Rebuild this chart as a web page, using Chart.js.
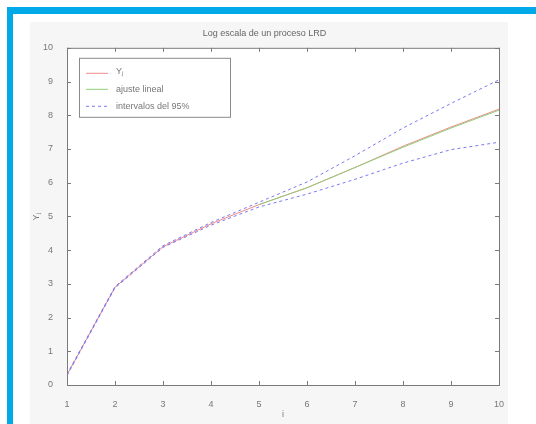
<!DOCTYPE html>
<html>
<head>
<meta charset="utf-8">
<script src="https://cdn.jsdelivr.net/npm/chart.js@4/dist/chart.umd.min.js"></script>
<style>
  html, body { margin: 0; padding: 0; background: #fff; }
  #frame {
    position: absolute; left: 7px; top: 7px; width: 529px; height: 417px;
    border-top: 7px solid #00a9e8; border-left: 6px solid #00a9e8;
    box-sizing: border-box;
  }
  #panel {
    position: absolute; left: 30px; top: 22px; width: 478px; height: 402px;
    background: #f6f6f6;
  }
  #wrap { position: absolute; left: 0; top: 0; width: 536px; height: 424px; }
</style>
</head>
<body>
<div id="frame"></div>
<div id="panel"></div>
<div id="wrap"><canvas id="lrdChart" width="536" height="424"></canvas></div>
<script>
// Octave index and log-scale values
const octaves = [1, 2, 3, 4, 5, 6, 7, 8, 9, 10];
const yj      = [0.3, 2.9, 4.1, 4.78, 5.35, 5.85, 6.45, 7.08, 7.65, 8.18];
const fitLine = [null, null, null, null, 5.35, 5.85, 6.45, 7.05, 7.62, 8.15];
const ciUpper = [0.32, 2.92, 4.13, 4.82, 5.42, 6.02, 6.8, 7.62, 8.35, 9.05];
const ciLower = [0.28, 2.88, 4.08, 4.74, 5.28, 5.66, 6.1, 6.58, 6.98, 7.2];

const xTicks = [1, 2, 3, 4, 5, 6, 7, 8, 9, 10];
const yTicks = [0, 1, 2, 3, 4, 5, 6, 7, 8, 9, 10];

const legendLabels = ['Yⱼ', 'ajuste lineal', 'intervalos del 95%'];
const textColor = '#777';
const fontFamily = '"Liberation Sans", Arial, sans-serif';

function toPoints(values) {
    return octaves.map((x, i) => ({ x: x, y: values[i] }));
}

// white plot box, inward ticks on four sides, legend inside the axes
const axesBox = {
    id: 'axesBox',
    beforeDatasetsDraw(chart) {
        const { ctx, chartArea: a } = chart;
        ctx.save();
        ctx.fillStyle = '#fff';
        ctx.fillRect(a.left, a.top, a.right - a.left, a.bottom - a.top);
        ctx.restore();
    },
    afterDatasetsDraw(chart) {
        const { ctx, chartArea: a, scales } = chart;
        ctx.save();
        ctx.strokeStyle = '#7a7a7a';
        ctx.lineWidth = 1;
        ctx.strokeRect(a.left + 0.5, a.top + 0.5, a.right - a.left, a.bottom - a.top);

        ctx.beginPath();
        xTicks.forEach(v => {
            const px = Math.round(scales.x.getPixelForValue(v)) + 0.5;
            ctx.moveTo(px, a.bottom); ctx.lineTo(px, a.bottom - 4);
            ctx.moveTo(px, a.top); ctx.lineTo(px, a.top + 4);
        });
        yTicks.forEach(v => {
            const py = Math.round(scales.y.getPixelForValue(v)) + 0.5;
            ctx.moveTo(a.left, py); ctx.lineTo(a.left + 4, py);
            ctx.moveTo(a.right, py); ctx.lineTo(a.right - 4, py);
        });
        ctx.stroke();

        // legend
        const lx = a.left + 12, ly = a.top + 10, lw = 151, lh = 59;
        ctx.fillStyle = '#fff';
        ctx.fillRect(lx, ly, lw, lh);
        ctx.strokeStyle = '#8a8a8a';
        ctx.strokeRect(lx + 0.5, ly + 0.5, lw, lh);

        const rows = [
            { ds: chart.data.datasets[0], y: ly + 15 },
            { ds: chart.data.datasets[1], y: ly + 31 },
            { ds: chart.data.datasets[2], y: ly + 48 }
        ];
        ctx.font = '9px ' + fontFamily;
        ctx.textBaseline = 'middle';
        rows.forEach((r, i) => {
            ctx.strokeStyle = r.ds.borderColor;
            ctx.setLineDash(r.ds.borderDash || []);
            ctx.beginPath();
            ctx.moveTo(lx + 7, r.y + 0.5);
            ctx.lineTo(lx + 29, r.y + 0.5);
            ctx.stroke();
            ctx.setLineDash([]);
            ctx.fillStyle = textColor;
            ctx.fillText(legendLabels[i], lx + 37, r.y + (i === 0 ? -1 : 1));
        });
        ctx.restore();
    }
};

const ctx = document.getElementById('lrdChart').getContext('2d');
new Chart(ctx, {
    type: 'line',
    data: {
        datasets: [
            {
                label: legendLabels[0],
                data: toPoints(yj),
                borderColor: '#f08a8a',
                borderWidth: 1,
                pointRadius: 0,
                order: 3
            },
            {
                label: legendLabels[1],
                data: toPoints(fitLine),
                borderColor: '#8fd07a',
                borderWidth: 1,
                pointRadius: 0,
                order: 0
            },
            {
                label: legendLabels[2],
                data: toPoints(ciUpper),
                borderColor: '#7a7af2',
                borderWidth: 1,
                borderDash: [3, 3],
                pointRadius: 0,
                order: 1
            },
            {
                label: legendLabels[2],
                data: toPoints(ciLower),
                borderColor: '#7a7af2',
                borderWidth: 1,
                borderDash: [3, 3],
                pointRadius: 0,
                order: 1
            }
        ]
    },
    options: {
        responsive: false,
        animation: false,
        layout: { padding: { left: 30, top: 22, right: 37, bottom: 0 } },
        plugins: {
            legend: { display: false },
            tooltip: { enabled: false },
            title: {
                display: true,
                text: 'Log escala de un proceso LRD',
                color: '#666',
                font: { family: fontFamily, size: 9, weight: 'normal' },
                padding: { top: 6, bottom: 9 }
            }
        },
        scales: {
            x: {
                type: 'linear',
                min: 1, max: 10,
                afterFit: s => { s.height = 39; },
                afterBuildTicks: s => { s.ticks = xTicks.map(v => ({ value: v })); },
                grid: { display: false },
                border: { display: false },
                ticks: { color: textColor, padding: 6, font: { family: fontFamily, size: 9 } },
                title: { display: true, text: 'i', color: textColor, font: { family: fontFamily, size: 9 }, padding: 4 }
            },
            y: {
                min: 0, max: 10,
                afterFit: s => { s.width = 37; },
                afterBuildTicks: s => { s.ticks = yTicks.map(v => ({ value: v })); },
                grid: { display: false },
                border: { display: false },
                ticks: { color: textColor, padding: 6, font: { family: fontFamily, size: 9 } },
                title: { display: true, text: 'Yⱼ', color: textColor, font: { family: fontFamily, size: 9 }, padding: 1 }
            }
        }
    },
    plugins: [axesBox]
});
</script>
</body>
</html>
